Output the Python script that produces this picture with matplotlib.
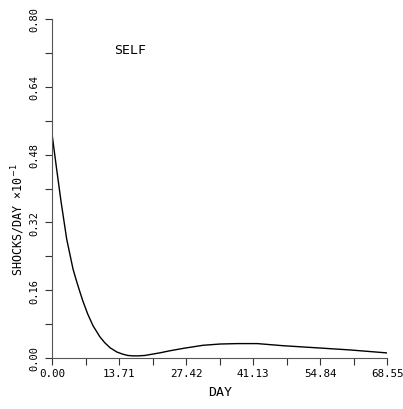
import matplotlib
matplotlib.use("Agg")
import matplotlib.pyplot as plt
import numpy as np

days = [0, 0.9, 1.84, 3.0, 4.3, 4.9, 5.6, 6.3, 7.3, 8.4, 9.8, 10.8, 11.9,
        13.3, 14.5, 15.5, 16.6, 17.6, 19.0, 20.5, 22.0, 24.1, 27.0, 30.9,
        34.4, 38, 42, 47.3, 54.2, 61, 68.55]
shocks = [0.529, 0.45, 0.37, 0.281, 0.210, 0.186, 0.160, 0.135, 0.104, 0.076,
          0.050, 0.036, 0.024, 0.014, 0.009, 0.006, 0.005, 0.005, 0.006,
          0.009, 0.012, 0.017, 0.023, 0.030, 0.033, 0.034, 0.034, 0.029,
          0.024, 0.019, 0.012]

x_major = [0.0, 13.71, 27.42, 41.13, 54.84, 68.55]
x_labels = ["0.00", "13.71", "27.42", "41.13", "54.84", "68.55"]
y_major = [0.0, 0.16, 0.32, 0.48, 0.64, 0.80]
y_labels = ["0.00", "0.16", "0.32", "0.48", "0.64", "0.80"]

FONT = "DejaVu Sans Mono"

fig = plt.figure(figsize=(4.03, 4.10), dpi=100)
ax = fig.add_axes([52/403, 1-359/410, (387-52)/403, (359-20)/410])
ax.plot(days, shocks, color="black", lw=1.0)
ax.set_xlim(0, 68.55)
ax.set_ylim(0, 0.80)

for s in ["top", "right"]:
    ax.spines[s].set_visible(False)
for s in ["left", "bottom"]:
    ax.spines[s].set_color("#555555")
    ax.spines[s].set_linewidth(0.8)

ax.set_xticks(x_major)
ax.set_xticklabels(x_labels, fontfamily=FONT, fontsize=7.8)
ax.set_xticks([6.855, 20.565, 34.275, 47.985, 61.695], minor=True)
ax.set_yticks(y_major)
ax.set_yticklabels(y_labels, fontfamily=FONT, fontsize=7.5, rotation=90, va="center")
ax.set_yticks([0.08, 0.24, 0.40, 0.56, 0.72], minor=True)
ax.tick_params(which="both", direction="out", length=5, width=0.8, color="#333333")
ax.tick_params(axis="x", pad=2.5)
ax.tick_params(axis="y", pad=4)

fig.text(220/403, 1-393/410, "DAY", fontfamily=FONT, fontsize=9.5, ha="center", va="center")
fig.text(18/403, 1-220/410, "SHOCKS/DAY \u00d710$^{-1}$", fontfamily=FONT, fontsize=8.5,
         rotation=90, ha="center", va="center")
ax.text(130/403, 1-50/410, "SELF", transform=fig.transFigure, fontfamily=FONT,
        fontsize=9.5, ha="center", va="center")

fig.savefig("out.png", dpi=100)
